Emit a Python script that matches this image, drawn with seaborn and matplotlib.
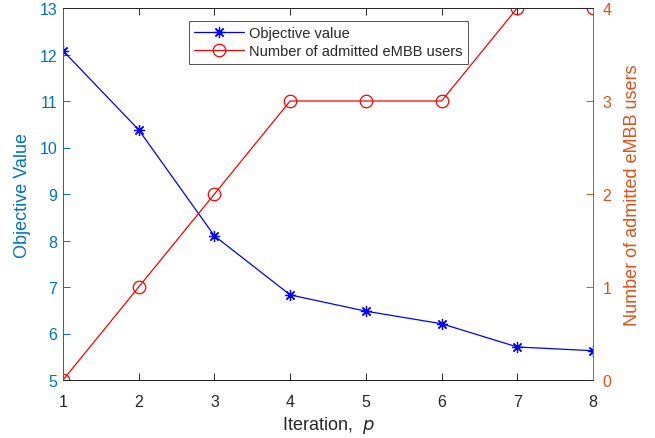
import matplotlib
matplotlib.use("Agg")
import matplotlib.pyplot as plt
import seaborn as sns
import pandas as pd

iterations = [1, 2, 3, 4, 5, 6, 7, 8]
objective_values = [12.08, 10.38, 8.10, 6.83, 6.48, 6.21, 5.71, 5.63]
admitted_users = [0, 1, 2, 3, 3, 3, 4, 4]
left_ticks = [5, 6, 7, 8, 9, 10, 11, 12, 13]
right_ticks = [0, 1, 2, 3, 4]

sns.set_theme(style="white")
plt.rcParams['font.family'] = ['Liberation Sans', 'DejaVu Sans']

blue_axis = '#0072BD'
orange_axis = '#D95319'
dark = '#262626'

df = pd.DataFrame({"p": iterations, "obj": objective_values, "users": admitted_users})

fig = plt.figure(figsize=(6.55, 4.39), dpi=100)
ax = fig.add_axes([63/655, 1 - 381/439, (593-63)/655, (381-9)/439])
ax2 = ax.twinx()

sns.lineplot(data=df, x="p", y="obj", ax=ax, color='blue', marker=(8, 2, 0), markersize=8,
             markeredgecolor='blue', markerfacecolor='blue', markeredgewidth=0.9, linewidth=0.9,
             label='Objective value', legend=False)
sns.lineplot(data=df, x="p", y="users", ax=ax2, color='red', marker='o', markersize=9,
             markeredgecolor='red', markerfacecolor='none', markeredgewidth=0.9, linewidth=0.9,
             label='Number of admitted eMBB users', legend=False)

ax.set_xlim(1, 8)
ax.set_ylim(5, 13)
ax2.set_ylim(0, 4)
ax.set_xticks(iterations)
ax.set_yticks(left_ticks)
ax2.set_yticks(right_ticks)

for a in (ax, ax2):
    a.tick_params(direction='in', length=5, width=0.7, labelsize=11.5, pad=4)
ax.tick_params(axis='x', colors=dark, top=True, bottom=True, labelcolor=dark, pad=10)
ax.tick_params(axis='y', colors=blue_axis, labelcolor=blue_axis, left=True, right=False)
ax2.tick_params(axis='y', colors=orange_axis, labelcolor=orange_axis, right=True, left=False, pad=7)
ax2.tick_params(axis='x', top=False, bottom=False)

for a in (ax, ax2):
    for s in a.spines.values():
        s.set_linewidth(0.7)
        s.set_visible(True)
    a.spines['top'].set_color(dark)
    a.spines['bottom'].set_color(dark)
    a.spines['left'].set_color(blue_axis)
    a.spines['right'].set_color(orange_axis)
    a.grid(False)

ax.set_xlabel('Iteration,  $\\it{p}$', fontsize=13, color=dark, labelpad=4)
ax.set_ylabel('Objective Value', fontsize=13, color=blue_axis, labelpad=6)
ax2.set_ylabel('Number of admitted eMBB users', fontsize=13, color=orange_axis, labelpad=9)
ax.set_facecolor('white')

h1, l1 = ax.get_legend_handles_labels()
h2, l2 = ax2.get_legend_handles_labels()
leg = ax2.legend(h1 + h2, l1 + l2, loc='upper left', bbox_to_anchor=(0.238, 0.965),
                 borderaxespad=0, fontsize=10.5, frameon=True, fancybox=False, edgecolor=dark,
                 borderpad=0.35, labelspacing=0.3, handlelength=3.4, handletextpad=0.35)
leg.get_frame().set_linewidth(0.7)

fig.savefig('out.png', dpi=100, facecolor='white')
